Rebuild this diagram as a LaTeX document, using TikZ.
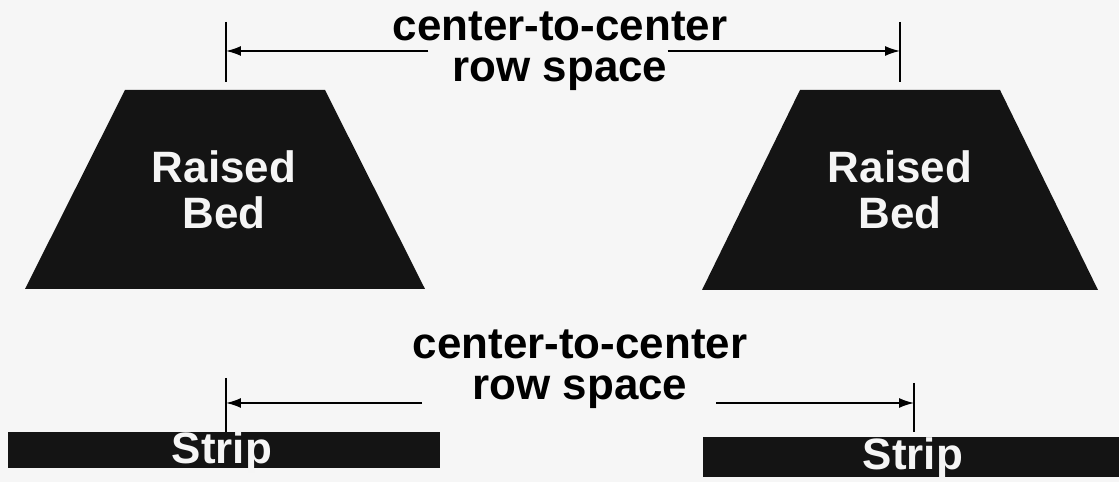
\documentclass[tikz,border=0pt]{standalone}
\usepackage{fontspec}
\setmainfont{Liberation Sans}
\usetikzlibrary{arrows.meta}

\tikzset{
  bed/.style={fill=black!92},
  dimlbl/.style={font=\bfseries\fontsize{25}{23.5}\selectfont, align=center, inner sep=0pt},
  bedlbl/.style={text=gray!8, font=\bfseries\fontsize{25}{26}\selectfont, align=center, inner sep=0pt},
  dimarrow/.style={-{Latex[length=3mm,width=2mm]}, line width=0.9pt},
  tickline/.style={line width=0.9pt}
}

\begin{document}
\begin{tikzpicture}[x=0.02cm, y=-0.02cm]
    \useasboundingbox[fill=gray!7] (0,0) rectangle (1119,482);

    % Raised beds
    \fill[bed] (125,90) -- (325,90) -- (425,289) -- (25,289) -- cycle;
    \node[bedlbl] (bedL) at (224,190) {Raised\\Bed};
    \fill[bed] (800,90) -- (1000,90) -- (1098,290) -- (702,290) -- cycle;
    \node[bedlbl] (bedR) at (900,190) {Raised\\Bed};

    % Top dimension
    \node[dimlbl] (topspace) at (560,51) {center-to-center\\row space};
    \draw[tickline] (226,22) -- (226,82);
    \draw[tickline] (900,22) -- (900,82);
    \coordinate (topL) at (226,51);
    \coordinate (topR) at (900,51);
    \draw[dimarrow] (topspace.west |- topL) ++(36,0) coordinate (topgapL) -- (topL);
    \draw[dimarrow] (topspace.east |- topR) ++(-60,0) coordinate (topgapR) -- (topR);

    % Strips
    \fill[bed] (8,432) rectangle (440,468);
    \node[bedlbl] (stripL) at (222,452) {Strip};
    \fill[bed] (703,437) rectangle (1119,477);
    \node[bedlbl] (stripR) at (913,458) {Strip};

    % Bottom dimension
    \node[dimlbl] (botspace) at (580,369) {center-to-center\\row space};
    \draw[tickline] (226,378) -- (226,432);
    \draw[tickline] (914,383) -- (914,432);
    \coordinate (botL) at (226,403);
    \coordinate (botR) at (914,403);
    \draw[dimarrow] (422,403) coordinate (botgapL) -- (botL);
    \draw[dimarrow] (716,403) coordinate (botgapR) -- (botR);
\end{tikzpicture}
\end{document}
